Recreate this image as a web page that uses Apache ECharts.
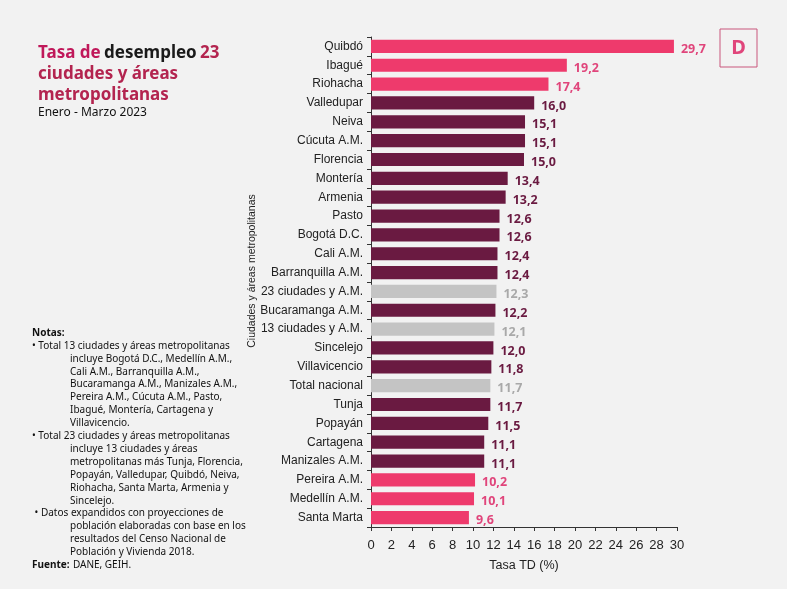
<!DOCTYPE html>
<html><head><meta charset="utf-8">
<script src="https://cdn.jsdelivr.net/npm/echarts@6/dist/echarts.min.js"></script>
<style>html,body{margin:0;padding:0;background:#f2f2f2;}#c{width:787px;height:589px;}</style>
</head><body><div id="c"></div>
<script>
const categories = ["Quibdó","Ibagué","Riohacha","Valledupar","Neiva","Cúcuta A.M.","Florencia","Montería","Armenia","Pasto","Bogotá D.C.","Cali A.M.","Barranquilla A.M.","23 ciudades y A.M.","Bucaramanga A.M.","13 ciudades y A.M.","Sincelejo","Villavicencio","Total nacional","Tunja","Popayán","Cartagena","Manizales A.M.","Pereira A.M.","Medellín A.M.","Santa Marta"];
const values = [29.7,19.2,17.4,16.0,15.1,15.1,15.0,13.4,13.2,12.6,12.6,12.4,12.4,12.3,12.2,12.1,12.0,11.8,11.7,11.7,11.5,11.1,11.1,10.2,10.1,9.6];
const highGroup = ["Quibdó","Ibagué","Riohacha","Pereira A.M.","Medellín A.M.","Santa Marta"];
const totalGroup = ["23 ciudades y A.M.","13 ciudades y A.M.","Total nacional"];
const xTicks = {min:0, max:30, interval:2};

const PINK="#ee3a6c", MAROON="#6a1a41", GRAY="#c4c4c4";
function barColor(c){return highGroup.includes(c)?PINK:(totalGroup.includes(c)?GRAY:MAROON);}
function labColor(c){return highGroup.includes(c)?"#e0457b":(totalGroup.includes(c)?"#a9a9a9":MAROON);}

const chart = echarts.init(document.getElementById('c'));
const F = "Noto Sans";
const L = "Liberation Sans";
const noteLines = [
 ["Notas:",32,true],
 ["• Total 13 ciudades y áreas metropolitanas",32],
 ["incluye Bogotá D.C., Medellín A.M.,",70],
 ["Cali A.M., Barranquilla A.M.,",70],
 ["Bucaramanga A.M., Manizales A.M.,",70],
 ["Pereira A.M., Cúcuta A.M., Pasto,",70],
 ["Ibagué, Montería, Cartagena y",70],
 ["Villavicencio.",70],
 ["• Total 23 ciudades y áreas metropolitanas",32],
 ["incluye 13 ciudades y áreas",70],
 ["metropolitanas más Tunja, Florencia,",70],
 ["Popayán, Valledupar, Quibdó, Neiva,",70],
 ["Riohacha, Santa Marta, Armenia y",70],
 ["Sincelejo.",70],
 [" • Datos expandidos con proyecciones de",32],
 ["población elaboradas con base en los",70],
 ["resultados del Censo Nacional de",70],
 ["Población y Vivienda 2018.",70]
];
const graphics = noteLines.map((l,i)=>({type:'text',x:l[1],y:333+12.9*i,style:{text:l[0],font:(l[2]?'bold ':'')+'10px "'+F+'"',fill:'#111',verticalAlign:'middle'}}));
graphics.push({type:'text',x:32,y:333+12.9*18,style:{rich:{b:{fontWeight:'bold',fontSize:10,fontFamily:F,fill:'#111'},n:{fontSize:10,fontFamily:F,fill:'#111'}},text:'{b|Fuente:} {n|DANE, GEIH.}',verticalAlign:'middle'}});
graphics.push({type:'text',x:38,y:53,style:{verticalAlign:'middle',rich:{a:{fontWeight:'bold',fontSize:17,fontFamily:F,fill:'#c0185a'},k:{fontWeight:'bold',fontSize:17,fontFamily:F,fill:'#1a1a1a'},r:{fontWeight:'bold',fontSize:17,fontFamily:F,fill:'#b3244f'}},text:'{a|Tasa de} {k|desempleo} {r|23}'}});
graphics.push({type:'text',x:38,y:74,style:{text:'ciudades y áreas',font:'bold 17px "'+F+'"',fill:'#b3244f',verticalAlign:'middle'}});
graphics.push({type:'text',x:38,y:95,style:{text:'metropolitanas',font:'bold 17px "'+F+'"',fill:'#b3244f',verticalAlign:'middle'}});
graphics.push({type:'text',x:38,y:113,style:{text:'Enero - Marzo 2023',font:'12px "'+F+'"',fill:'#111',verticalAlign:'middle'}});
graphics.push({type:'text',x:252,y:271,rotation:Math.PI/2,style:{text:'Ciudades y áreas metropolitanas',font:'10.5px "'+L+'"',fill:'#222',align:'center',verticalAlign:'middle'}});
graphics.push({type:'rect',shape:{x:720,y:29,width:37,height:38},style:{fill:'none',stroke:'#c9577d',lineWidth:1}});
graphics.push({type:'text',x:738.5,y:48,style:{text:'D',font:'bold 20px "'+F+'"',fill:'#e0457b',align:'center',verticalAlign:'middle'}});

chart.setOption({
  backgroundColor:'#f2f2f2',
  animation:false,
  grid:{left:371,right:110,top:37,bottom:62,containLabel:false},
  xAxis:{type:'value',min:xTicks.min,max:xTicks.max,interval:xTicks.interval,
    name:'Tasa TD (%)',nameLocation:'middle',nameGap:32,
    nameTextStyle:{fontSize:12.5,fontFamily:L,color:'#222'},
    axisLine:{show:true,lineStyle:{color:'#333'}},
    axisTick:{show:true,length:4,lineStyle:{color:'#333'}},
    axisLabel:{fontSize:13,fontFamily:L,color:'#222',margin:12},
    splitLine:{show:false}},
  yAxis:{type:'category',data:categories,inverse:true,
    axisLine:{show:true,lineStyle:{color:'#333'}},
    axisTick:{show:true,length:4,lineStyle:{color:'#333'}},
    axisLabel:{fontSize:12,fontFamily:L,color:'#222',margin:8}},
  series:[{type:'bar',barCategoryGap:'30%',
    data:values.map((v,i)=>({value:v,itemStyle:{color:barColor(categories[i])},
      label:{color:labColor(categories[i])}})),
    label:{show:true,position:'right',distance:7,offset:[0,3],fontWeight:'bold',fontSize:12.5,fontFamily:F,
      formatter:p=>p.value.toFixed(1).replace('.',',')}}],
  graphic:graphics
});
</script></body></html>
